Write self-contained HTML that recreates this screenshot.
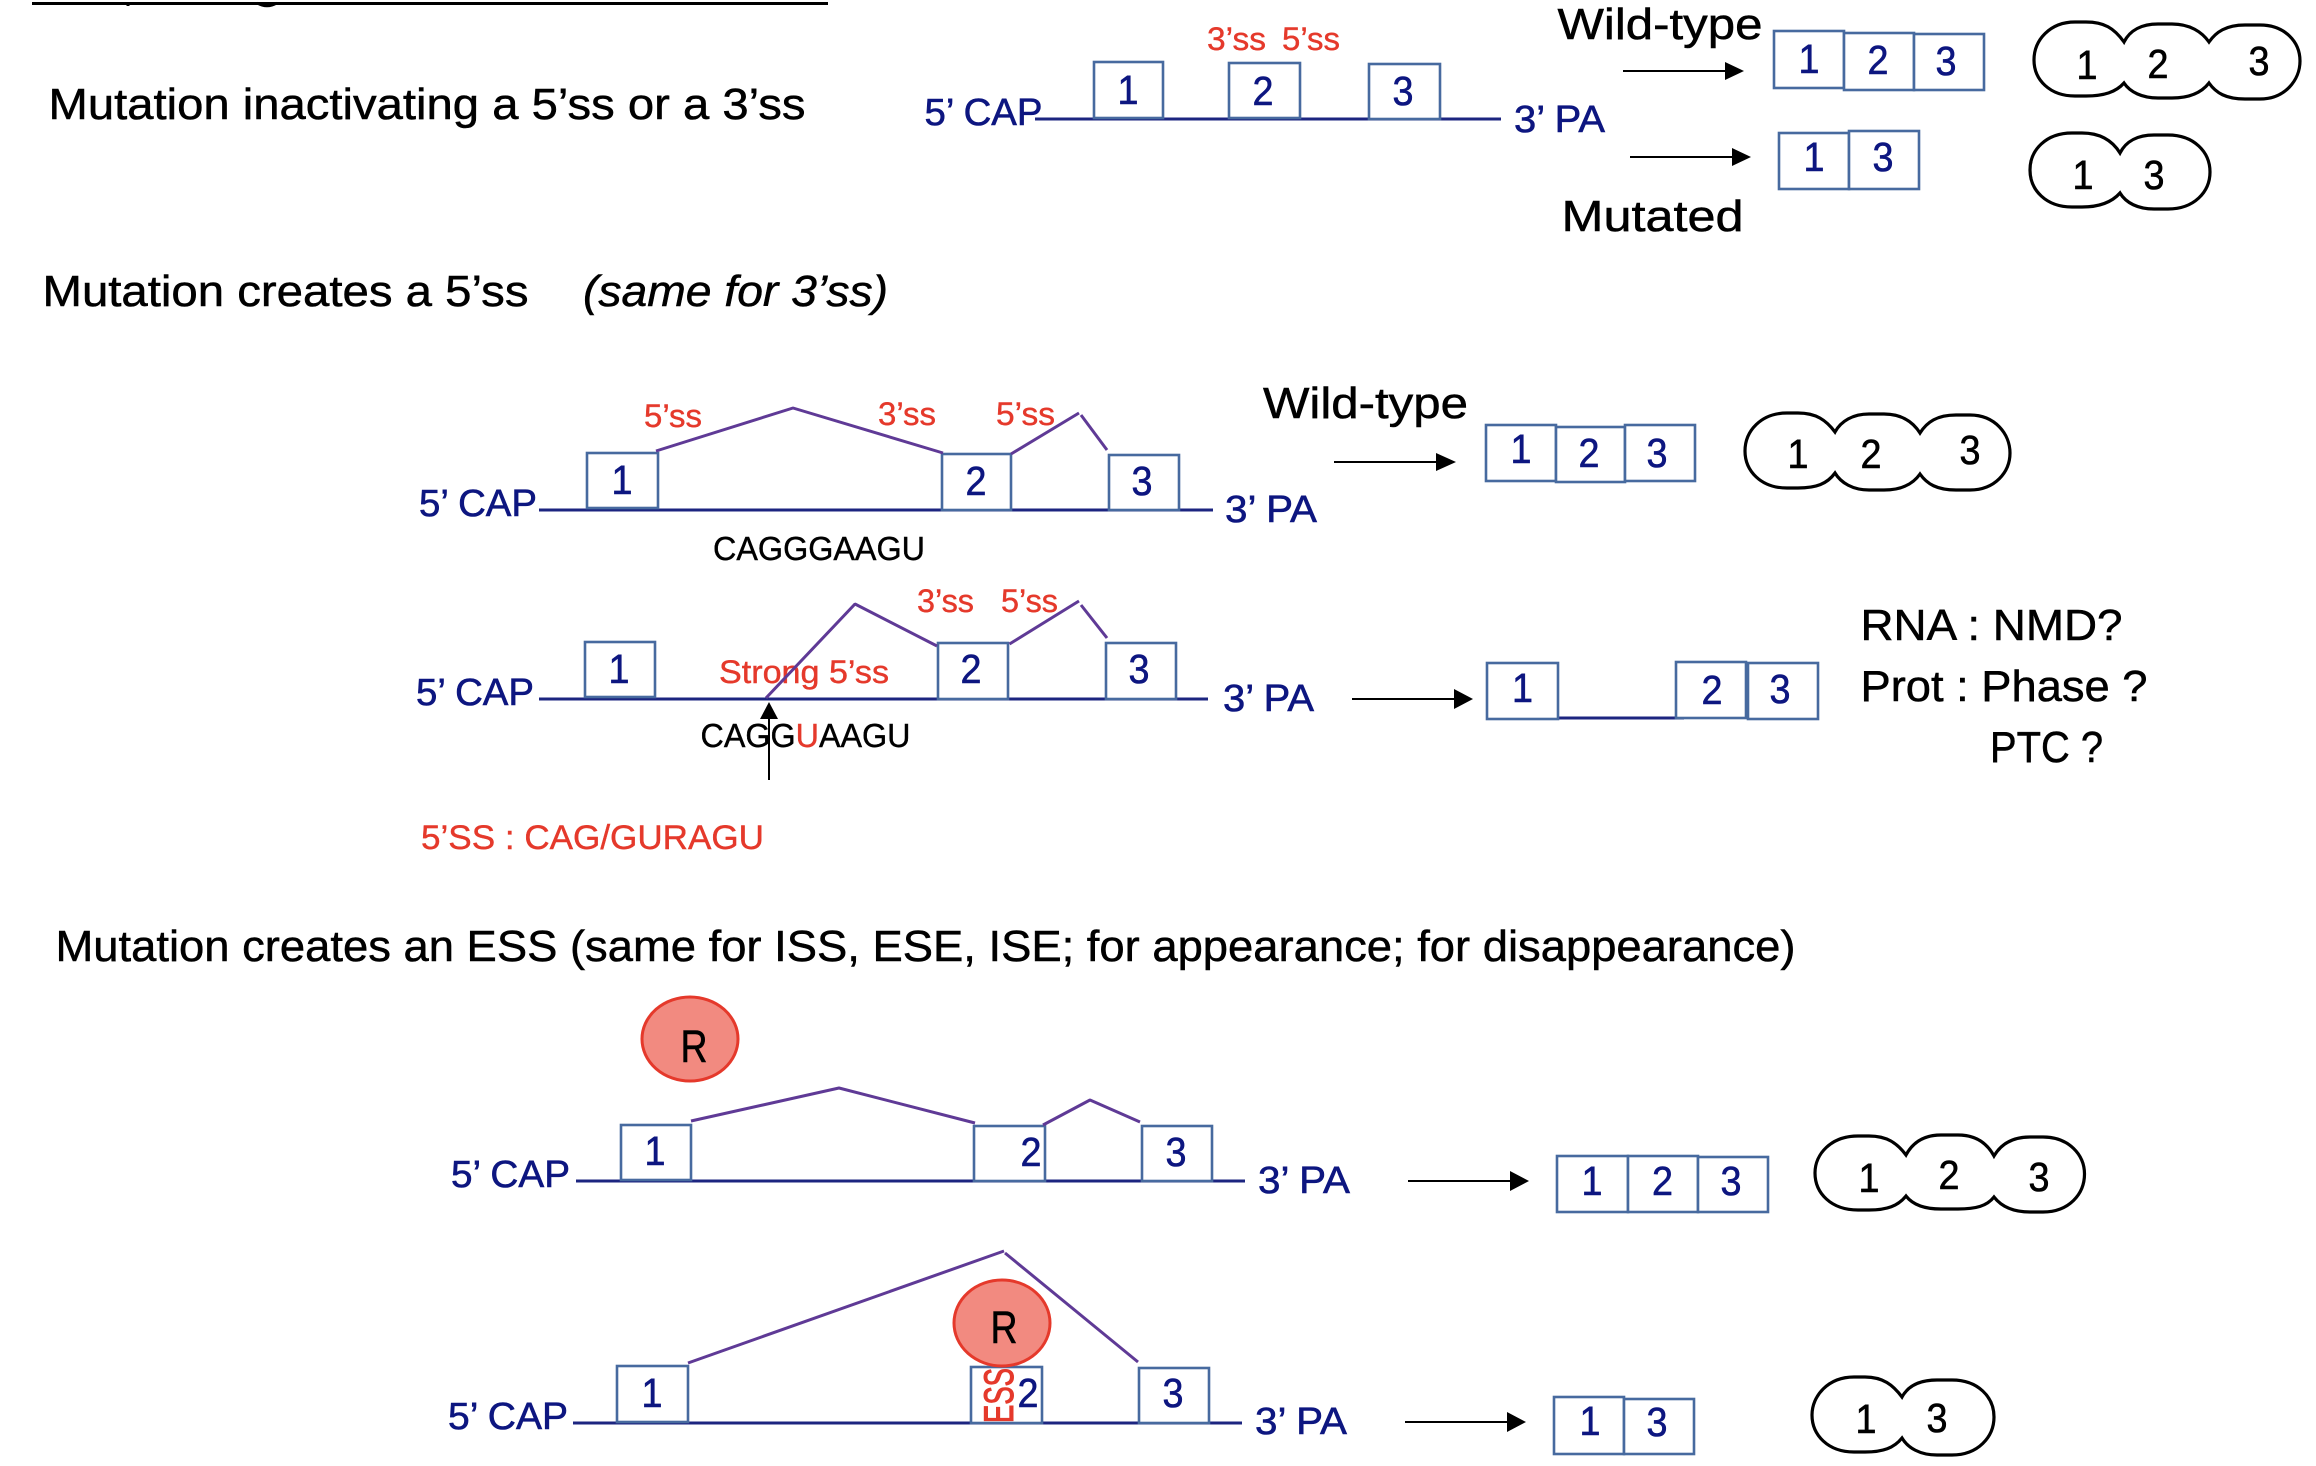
<!DOCTYPE html>
<html><head><meta charset="utf-8"><title>Splicing mutations</title>
<style>
html,body{margin:0;padding:0;background:#fff;width:2316px;height:1466px;overflow:hidden}
svg{display:block}
text{font-family:"Liberation Sans",sans-serif}
.h{font-size:44px;fill:#000;stroke:#000;stroke-width:.5}
.n{font-size:38px;fill:#0d1680;stroke:#0d1680;stroke-width:.6}
.d{font-size:41px;fill:#0d1680;stroke:#0d1680;stroke-width:.6;text-anchor:middle}
.k{font-size:41px;fill:#000;stroke:#000;stroke-width:.6;text-anchor:middle}
.r{font-size:32px;fill:#e5392b;stroke:#e5392b;stroke-width:.4}
.s{font-size:33px;fill:#000;stroke:#000;stroke-width:.4}
.b{fill:#fff;stroke:#476a9f;stroke-width:2.6}
.l{stroke:#1c2580;stroke-width:3;fill:none}
.p{stroke:#5f3a96;stroke-width:3;fill:none;stroke-linejoin:bevel}
.o{fill:#fff;stroke:#000;stroke-width:3.2}
.a{stroke:#000;stroke-width:2;fill:none}
.e{fill:#f28a80;stroke:#e5392b;stroke-width:3}
</style></head><body>
<svg width="2316" height="1466" viewBox="0 0 2316 1466" xmlns="http://www.w3.org/2000/svg">
<rect width="2316" height="1466" fill="#fff"/>

<!-- top clipped heading rule -->
<line x1="32" y1="3.5" x2="828" y2="3.5" stroke="#000" stroke-width="3"/>
<rect x="126.500" y="3" width="3" height="3" fill="#000"/>
<path d="M257 3 Q267 9 277 3" fill="none" stroke="#000" stroke-width="2.500"/>

<!-- headings -->
<text class="h" x="48.500" y="119" textLength="757" lengthAdjust="spacingAndGlyphs">Mutation inactivating a 5’ss or a 3’ss</text>
<text class="h" x="42.500" y="306" textLength="486" lengthAdjust="spacingAndGlyphs">Mutation creates a 5’ss</text>
<text class="h" x="583" y="306" font-style="italic" textLength="305" lengthAdjust="spacingAndGlyphs">(same for 3’ss)</text>
<text class="h" x="55.500" y="961" textLength="1740" lengthAdjust="spacingAndGlyphs">Mutation creates an ESS (same for ISS, ESE, ISE; for appearance; for disappearance)</text>

<!-- ROW TOP -->
<line class="l" x1="1035" y1="119" x2="1501" y2="119"/>
<rect class="b" x="1094" y="62" width="69" height="56"/>
<rect class="b" x="1229" y="63" width="71" height="55"/>
<rect class="b" x="1369" y="64" width="71" height="55"/>
<text class="d" x="1128" y="104" textLength="21" lengthAdjust="spacingAndGlyphs">1</text>
<text class="d" x="1263" y="105" textLength="21" lengthAdjust="spacingAndGlyphs">2</text>
<text class="d" x="1403" y="105" textLength="21" lengthAdjust="spacingAndGlyphs">3</text>
<text class="n" x="924.500" y="125" textLength="118" lengthAdjust="spacingAndGlyphs">5’ CAP</text>
<text class="n" x="1514" y="132" textLength="91" lengthAdjust="spacingAndGlyphs">3’ PA</text>
<text class="r" x="1207" y="50" textLength="59" lengthAdjust="spacingAndGlyphs">3’ss</text>
<text class="r" x="1282" y="50" textLength="58" lengthAdjust="spacingAndGlyphs">5’ss</text>

<text class="h" x="1557.500" y="39" textLength="205" lengthAdjust="spacingAndGlyphs">Wild-type</text>
<text class="h" x="1561.500" y="231" textLength="182" lengthAdjust="spacingAndGlyphs">Mutated</text>

<line class="a" x1="1623" y1="71" x2="1727" y2="71"/><polygon points="1725,62 1744,71 1725,80" fill="#000"/>
<line class="a" x1="1630" y1="157" x2="1734" y2="157"/><polygon points="1732,148 1751,157 1732,166" fill="#000"/>

<rect class="b" x="1774" y="31" width="70" height="57"/>
<rect class="b" x="1844" y="33" width="70" height="57"/>
<rect class="b" x="1914" y="34" width="70" height="56"/>
<text class="d" x="1809" y="73" textLength="21" lengthAdjust="spacingAndGlyphs">1</text>
<text class="d" x="1878" y="74" textLength="21" lengthAdjust="spacingAndGlyphs">2</text>
<text class="d" x="1946" y="75" textLength="21" lengthAdjust="spacingAndGlyphs">3</text>

<rect class="b" x="1779" y="133" width="70" height="56"/>
<rect class="b" x="1849" y="131" width="70" height="58"/>
<text class="d" x="1814" y="171" textLength="21" lengthAdjust="spacingAndGlyphs">1</text>
<text class="d" x="1883" y="171" textLength="21" lengthAdjust="spacingAndGlyphs">3</text>

<path class="o" d="M2124 42 C2114 28,2104 22,2086 22 L2075 22 C2050 22,2034 40,2034 60 C2034 80,2050 96,2075 96 L2086 96 C2104 96,2116 92,2124 83 C2130 92,2142 98,2158 98 L2172 98 C2190 98,2202 92,2209 83 C2216 93,2226 99,2245 99 L2260 99 C2285 99,2300 80,2300 61 C2300 42,2285 25,2260 25 L2245 25 C2226 25,2216 32,2209 42 C2202 32,2190 24,2172 24 L2158 24 C2142 24,2130 30,2124 42 Z"/>
<text class="k" x="2087" y="79" textLength="21" lengthAdjust="spacingAndGlyphs">1</text>
<text class="k" x="2158" y="78" textLength="21" lengthAdjust="spacingAndGlyphs">2</text>
<text class="k" x="2259" y="75" textLength="21" lengthAdjust="spacingAndGlyphs">3</text>

<path class="o" d="M2120 153 C2112 140,2100 133,2082 133 L2072 133 C2046 133,2030 150,2030 170 C2030 190,2046 207,2072 207 L2082 207 C2100 207,2112 202,2120 193 C2126 203,2138 209,2154 209 L2168 209 C2194 209,2210 192,2210 172 C2210 152,2194 135,2168 135 L2154 135 C2138 135,2126 141,2120 153 Z"/>
<text class="k" x="2083" y="189" textLength="21" lengthAdjust="spacingAndGlyphs">1</text>
<text class="k" x="2154" y="189" textLength="21" lengthAdjust="spacingAndGlyphs">3</text>

<!-- ROW A -->
<line class="l" x1="539" y1="510" x2="1213" y2="510"/>
<rect class="b" x="587" y="453" width="71" height="55"/>
<rect class="b" x="942" y="454" width="69" height="56"/>
<rect class="b" x="1109" y="455" width="70" height="55"/>
<text class="d" x="622" y="494" textLength="21" lengthAdjust="spacingAndGlyphs">1</text>
<text class="d" x="976" y="495" textLength="21" lengthAdjust="spacingAndGlyphs">2</text>
<text class="d" x="1142" y="495" textLength="21" lengthAdjust="spacingAndGlyphs">3</text>
<text class="n" x="419" y="516" textLength="118" lengthAdjust="spacingAndGlyphs">5’ CAP</text>
<text class="n" x="1225" y="522" textLength="92" lengthAdjust="spacingAndGlyphs">3’ PA</text>
<polyline class="p" points="656,451 793,408 943,453"/>
<polyline class="p" points="1011,454 1079,413"/>
<line class="p" x1="1081" y1="415" x2="1107" y2="450" stroke-width="2.500"/>
<text class="r" x="644" y="427" textLength="58" lengthAdjust="spacingAndGlyphs">5’ss</text>
<text class="r" x="878" y="425" textLength="58" lengthAdjust="spacingAndGlyphs">3’ss</text>
<text class="r" x="996" y="425" textLength="59" lengthAdjust="spacingAndGlyphs">5’ss</text>
<text class="s" x="713" y="560" textLength="212" lengthAdjust="spacingAndGlyphs">CAGGGAAGU</text>

<text class="h" x="1263" y="418" textLength="205" lengthAdjust="spacingAndGlyphs">Wild-type</text>
<line class="a" x1="1334" y1="462" x2="1438" y2="462"/><polygon points="1436,453 1456,462 1436,471" fill="#000"/>
<rect class="b" x="1486" y="425" width="70" height="56"/>
<rect class="b" x="1556" y="427" width="69" height="55"/>
<rect class="b" x="1625" y="425" width="70" height="56"/>
<text class="d" x="1521" y="463" textLength="21" lengthAdjust="spacingAndGlyphs">1</text>
<text class="d" x="1589" y="467" textLength="21" lengthAdjust="spacingAndGlyphs">2</text>
<text class="d" x="1657" y="467" textLength="21" lengthAdjust="spacingAndGlyphs">3</text>
<path class="o" d="M1835 432 C1826 420,1816 413,1798 413 L1787 413 C1761 413,1745 431,1745 451 C1745 471,1761 488,1787 488 L1798 488 C1816 488,1827 484,1835 473 C1841 483,1853 490,1869 490 L1884 490 C1902 490,1913 484,1920 474 C1927 484,1937 490,1956 490 L1970 490 C1995 490,2010 472,2010 453 C2010 434,1995 415,1970 415 L1956 415 C1937 415,1927 422,1920 433 C1913 422,1902 414,1884 414 L1869 414 C1853 414,1841 421,1835 432 Z"/>
<text class="k" x="1798" y="468" textLength="21" lengthAdjust="spacingAndGlyphs">1</text>
<text class="k" x="1871" y="468" textLength="21" lengthAdjust="spacingAndGlyphs">2</text>
<text class="k" x="1970" y="464" textLength="21" lengthAdjust="spacingAndGlyphs">3</text>

<!-- ROW B -->
<line class="l" x1="539" y1="699" x2="1208" y2="699"/>
<rect class="b" x="585" y="642" width="70" height="55"/>
<rect class="b" x="938" y="643" width="70" height="56"/>
<rect class="b" x="1106" y="643" width="70" height="56"/>
<text class="d" x="619" y="683" textLength="21" lengthAdjust="spacingAndGlyphs">1</text>
<text class="d" x="971" y="683" textLength="21" lengthAdjust="spacingAndGlyphs">2</text>
<text class="d" x="1139" y="683" textLength="21" lengthAdjust="spacingAndGlyphs">3</text>
<text class="n" x="416" y="705" textLength="118" lengthAdjust="spacingAndGlyphs">5’ CAP</text>
<text class="n" x="1223" y="711" textLength="91" lengthAdjust="spacingAndGlyphs">3’ PA</text>
<text class="r" x="719" y="683" textLength="170" lengthAdjust="spacingAndGlyphs">Strong 5’ss</text>
<polyline class="p" points="766,698 855,604 937,646"/>
<polyline class="p" points="1009.500,644 1079,601"/>
<line class="p" x1="1081" y1="605" x2="1107" y2="638" stroke-width="2.500"/>
<text class="r" x="917" y="612" textLength="57" lengthAdjust="spacingAndGlyphs">3’ss</text>
<text class="r" x="1001" y="612" textLength="57" lengthAdjust="spacingAndGlyphs">5’ss</text>
<text class="s" x="700.500" y="747" textLength="210" lengthAdjust="spacingAndGlyphs">CAGG<tspan fill="#e5392b" stroke="#e5392b">U</tspan>AAGU</text>
<line class="a" x1="769" y1="780" x2="769" y2="717" stroke-width="1.600"/>
<polygon points="769,702 778,719 760,719" fill="#000"/>
<text class="r" x="421" y="849" style="font-size:34px" textLength="343" lengthAdjust="spacingAndGlyphs">5’SS : CAG/GURAGU</text>

<line class="a" x1="1352" y1="699" x2="1456" y2="699"/><polygon points="1454,689 1473,699 1454,709" fill="#000"/>
<line class="l" x1="1558" y1="718" x2="1684" y2="718"/>
<rect class="b" x="1487" y="663" width="71" height="56"/>
<rect class="b" x="1676" y="662" width="70" height="56"/>
<rect class="b" x="1748" y="663" width="70" height="56"/>
<text class="d" x="1522.500" y="702" textLength="21" lengthAdjust="spacingAndGlyphs">1</text>
<text class="d" x="1712" y="704" textLength="21" lengthAdjust="spacingAndGlyphs">2</text>
<text class="d" x="1780" y="703" textLength="21" lengthAdjust="spacingAndGlyphs">3</text>
<text class="h" x="1860.500" y="640" textLength="262" lengthAdjust="spacingAndGlyphs">RNA : NMD?</text>
<text class="h" x="1860.500" y="701" textLength="287" lengthAdjust="spacingAndGlyphs">Prot : Phase ?</text>
<text class="h" x="1990" y="762" textLength="113" lengthAdjust="spacingAndGlyphs">PTC ?</text>

<!-- ROW C -->
<line class="l" x1="576" y1="1181" x2="1245" y2="1181"/>
<rect class="b" x="621" y="1125" width="70" height="55"/>
<rect class="b" x="974" y="1126" width="71" height="55"/>
<rect class="b" x="1142" y="1126" width="70" height="55"/>
<text class="d" x="655" y="1165" textLength="21" lengthAdjust="spacingAndGlyphs">1</text>
<text class="d" x="1031" y="1166" textLength="21" lengthAdjust="spacingAndGlyphs">2</text>
<text class="d" x="1176" y="1166" textLength="21" lengthAdjust="spacingAndGlyphs">3</text>
<text class="n" x="451" y="1187" textLength="119" lengthAdjust="spacingAndGlyphs">5’ CAP</text>
<text class="n" x="1258" y="1193" textLength="92" lengthAdjust="spacingAndGlyphs">3’ PA</text>
<polyline class="p" points="691,1121 839,1088 975,1123"/>
<polyline class="p" points="1043,1125 1090,1100 1140,1122"/>
<ellipse class="e" cx="690" cy="1039" rx="48" ry="42"/>
<text class="k" x="694" y="1062" style="font-size:45px" textLength="27" lengthAdjust="spacingAndGlyphs">R</text>

<line class="a" x1="1408" y1="1181" x2="1512" y2="1181"/><polygon points="1510,1171 1529,1181 1510,1191" fill="#000"/>
<rect class="b" x="1557" y="1156" width="71" height="56"/>
<rect class="b" x="1628" y="1156" width="70" height="56"/>
<rect class="b" x="1698" y="1157" width="70" height="55"/>
<text class="d" x="1592" y="1195" textLength="21" lengthAdjust="spacingAndGlyphs">1</text>
<text class="d" x="1662.500" y="1195" textLength="21" lengthAdjust="spacingAndGlyphs">2</text>
<text class="d" x="1731" y="1195" textLength="21" lengthAdjust="spacingAndGlyphs">3</text>
<path class="o" d="M1906 1155 C1897 1143,1887 1136,1869 1136 L1858 1136 C1831 1136,1815 1154,1815 1173 C1815 1193,1831 1210,1858 1210 L1869 1210 C1887 1210,1898 1206,1906 1196 C1913 1205,1925 1209,1941 1209 L1958 1209 C1976 1209,1987 1206,1994 1197 C2001 1206,2012 1212,2030 1212 L2043 1212 C2069 1212,2084.500 1194,2084.500 1174 C2084.500 1155,2069 1137,2043 1137 L2030 1137 C2012 1137,2001 1144,1994 1156 C1987 1143,1976 1135,1958 1135 L1941 1135 C1925 1135,1913 1142,1906 1155 Z"/>
<text class="k" x="1869" y="1192" textLength="21" lengthAdjust="spacingAndGlyphs">1</text>
<text class="k" x="1949" y="1189" textLength="21" lengthAdjust="spacingAndGlyphs">2</text>
<text class="k" x="2039" y="1191" textLength="21" lengthAdjust="spacingAndGlyphs">3</text>

<!-- ROW D -->
<line class="l" x1="573" y1="1423" x2="1242" y2="1423"/>
<rect class="b" x="617" y="1366" width="71" height="56"/>
<rect class="b" x="971" y="1367" width="71" height="56"/>
<rect class="b" x="1139" y="1368" width="70" height="55"/>
<text class="d" x="652" y="1407" textLength="21" lengthAdjust="spacingAndGlyphs">1</text>
<text class="d" x="1028" y="1407" textLength="21" lengthAdjust="spacingAndGlyphs">2</text>
<text class="d" x="1173" y="1407" textLength="21" lengthAdjust="spacingAndGlyphs">3</text>
<text class="n" x="448" y="1429" textLength="120" lengthAdjust="spacingAndGlyphs">5’ CAP</text>
<text class="n" x="1255" y="1434" textLength="92" lengthAdjust="spacingAndGlyphs">3’ PA</text>
<polyline class="p" points="688,1363 1004,1251"/>
<polyline class="p" points="1005,1253 1138,1362"/>
<text transform="translate(1013 1423) rotate(-90)" x="0" y="0" style="font-size:42px;fill:#e5392b;stroke:#e5392b;stroke-width:1" textLength="55" lengthAdjust="spacingAndGlyphs">ESS</text>
<ellipse class="e" cx="1002" cy="1323" rx="48" ry="43"/>
<text class="k" x="1004" y="1343" style="font-size:45px" textLength="27" lengthAdjust="spacingAndGlyphs">R</text>

<line class="a" x1="1405" y1="1422" x2="1509" y2="1422"/><polygon points="1507,1412 1526,1422 1507,1432" fill="#000"/>
<rect class="b" x="1554" y="1397" width="70" height="57"/>
<rect class="b" x="1624" y="1399" width="70" height="55"/>
<text class="d" x="1590" y="1435" textLength="21" lengthAdjust="spacingAndGlyphs">1</text>
<text class="d" x="1657" y="1436" textLength="21" lengthAdjust="spacingAndGlyphs">3</text>
<path class="o" d="M1902 1397 C1893 1385,1883 1377,1865 1377 L1854 1377 C1828 1377,1812 1396,1812 1415 C1812 1435,1828 1452,1854 1452 L1865 1452 C1883 1452,1894 1448,1902 1438 C1908 1448,1920 1455,1937 1455 L1952 1455 C1978 1455,1994 1437,1994 1417 C1994 1397,1978 1380,1952 1380 L1937 1380 C1920 1380,1908 1386,1902 1397 Z"/>
<text class="k" x="1866" y="1433" textLength="21" lengthAdjust="spacingAndGlyphs">1</text>
<text class="k" x="1937" y="1432" textLength="21" lengthAdjust="spacingAndGlyphs">3</text>
</svg>
</body></html>
